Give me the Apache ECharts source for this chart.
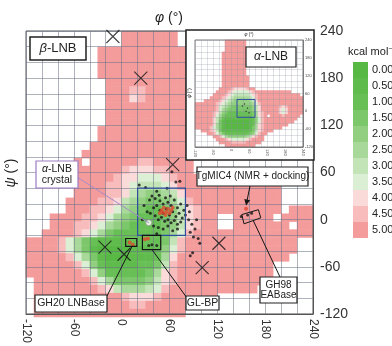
<!DOCTYPE html>
<html>
<head>
<meta charset="utf-8">
<script src="https://cdn.jsdelivr.net/npm/echarts@6/dist/echarts.min.js"></script>
<style>
  html, body { margin: 0; padding: 0; background: #fff; }
  #chart { width: 392px; height: 346px; }
</style>
</head>
<body>
<div id="chart"></div>
<script>
// energy levels (kcal/mol) and their colours
const levels = [0, 0.5, 1, 1.5, 2, 2.5, 3, 3.5, 4, 4.5, 5];
const levelColors = ['#58b844', '#5fbb4b', '#68bf55', '#7cc76a', '#92cf81', '#a9d99a',
  '#c2e4b7', '#dbefd5', '#fbdada', '#f8bcbc', '#f39c9b'];
const levelKeys = '0123456789A'; // '.' = no data

// phi / psi bins (10 deg); map rows are listed from psi 240 down to -120
const phiBins = [-120, -110, -100, -90, -80, -70, -60, -50, -40, -30, -20, -10, 0, 10, 20, 30, 40, 50,
  60, 70, 80, 90, 100, 110, 120, 130, 140, 150, 160, 170, 180, 190, 200, 210, 220, 230];

// beta-LNB map
const mainMap = [
  '............AAAAAAA.................',
  '............AAAAAAA.................',
  '.........AAAAAAAAAAA................',
  '.........AAAAAAAAAAA................',
  '.........AAAAAAAAAAA................',
  '.........AAAAAAAAAAA................',
  '..........AAAAAAAAAA................',
  '..........AAA99AAAAA................',
  '..........AAA89AAAAA................',
  '..........AAAAAAAAAA................',
  '..........AAAAAAAAAA................',
  '..........AAAAAAAAAA................',
  '.........AAAAAAAAAAA................',
  '.........AAAAAAAAAAA................',
  '........AAAAAAAAAAAA................',
  '.......AAAAAAAAAAAAA................',
  '......A.AAAAAA99AAAAA...............',
  '......AAAAAA988899AAA...............',
  '.....AAAAAA98877789AAAAAAAAAAA......',
  '......AAAA998766678AAAAAAAAAAAAA....',
  '......AAAA9986544568AAAAAAAAAAAA....',
  '.....AAAA998654334579AAAAAAAAAAA....',
  '.....AAA99875432234689AAAAAAAAAA.AAA',
  '...AAAA998754322234689AA..AAAAA.AAAA',
  '...AAA9987543222234689AA..AAAAAAA.AA',
  '..AAAA987532222223579AAAAAAAAAAAAAAA',
  'AAAA9753211112222369AAAAAAAAAAAAAA..',
  'AAAA9753100001112479AAAAAAAAAAAAAA..',
  'AAAAA97531000111258AAAAAAAAAAAAAA...',
  'AAAAAA9742111122369AAAAAAAAAAAA.....',
  'AAAAAAA974222223589AAAAAAAAAAAA.....',
  '.AAAAAAA97533334689AAAAAAAAAAA......',
  '.AAAAAAAA986555679AAAAAAAAAAA.......',
  '.AAAAAAAAAAA98889AAAAAAA............',
  '.AAAAAAAAAAAA99AAAAA................',
  '.AAAAAAAAAAAAAAAAAAA................'
];

// alpha-LNB inset map
const insetMap = [
  '..........AAAAAAA...................',
  '..........AAAAAAA...................',
  '..........AAAAAAA...................',
  '..........AAAAAAA...................',
  '.........AAAAAAAA...................',
  '.........AAAAAAAA...................',
  '.........AAAAAAAA...................',
  '.........AAAAAAAA...................',
  '.........AAAAAAAA...................',
  '.........AAAAAAAA...................',
  '.........AAAAAAAA...................',
  '.........AAAAAAAA...................',
  '.........AAAAAAAAA..................',
  '.........AAAAAAAAA..................',
  '.........AAAAAAAAA..................',
  '.........AAAAAAAAA..................',
  '........AAAA988889AA................',
  '.......AAAA987777789AAAAAAAAAAAA....',
  '......AAAA98766666789AAAAAAAAAAAAAA.',
  '.....AAAA987655555679AAAAAAAAAAAAAAA',
  '...AAAAA9876544444568AAAAAAAAAAAAAAA',
  'AAAAAAA987654444444579AAAAAAAAAAAAAA',
  'AAAAAAA976543333333468AAAAAA989AAAAA',
  'AAAAAAA975433333333468AAAAAA878AAAAA',
  'AAAAAA98643222222223589AAAAA878AAAAA',
  'AAAAAA97532222222223589A.AAAA9AAAAA.',
  'AAAAAA86421111111112479AAAAAAAAAAA..',
  'AAAAAA86310000000012479AAAAAAAAAA...',
  'AAAAAA85310000000012589AAAAAAAA.....',
  'AAAAA975310000000013589AAAAAA.......',
  '..AAA986311111111123689AAA..........',
  '....AA9753222222223479AA............',
  '......AA9754444445689AA.............',
  '.......AAA987777789AAAA.............',
  '........AAAA99999AAAAA..............',
  '..........AAAAAAAAAA................'
];

// [phi, psi] points
const blackDots = [
  [22, 44], [30, 41], [44, 36], [57, 40], [68, 48], [73, 49], [63, 61],
  [38, 30], [35, 25], [42, 27], [48, 24], [52, 20], [58, 22], [62, 18], [66, 25], [70, 15], [74, 20], [78, 12],
  [40, 15], [44, 18], [48, 12], [52, 8], [56, 14], [60, 6], [64, 10], [68, 4], [72, 8], [76, 2], [80, 6],
  [36, 8], [42, 5], [46, 0], [50, 3], [54, -2], [58, 0], [62, -4], [66, -1], [70, -6], [74, -3],
  [40, -8], [46, -10], [52, -12], [58, -8], [64, -14], [70, -12], [55, 28], [61, 30], [47, 31],
  [28, 18], [32, 10], [26, 0], [44, -18], [82, 18], [85, 10],
  [84, 0], [88, -6], [92, -12], [86, -16], [90, -22], [96, -24], [89, -42], [86, -46], [94, 0], [98, -30],
  [34, -33], [38, -32], [44, -33], [150, 4], [158, 6], [163, 8]
];
const redDots = [[50, 12], [53, 15], [56, 10], [58, 14], [60, 8], [62, 12], [55, 6], [52, 9], [64, 15], [48, 8],
  [10, -29], [14, -32], [29, -25], [33, -24], [156, 14]];
const crystalDot = [[34, -4]];
const minimaMarks = [[-11, 233], [24, 180], [64, 70], [-21, -35], [3, -44], [122, -30], [101, -61]];
const blueBox = [[20, -20], [80, 40]];
const gh20Box = [[5, -24], [19, -34]];
const glbpBox = [[26, -20], [49, -38]];
const gh98Box = [[150.6, 6.4], [171.5, 12.7], [174.5, 2.3], [153.5, -5.3], [150.6, 6.4]];
const insetDots = [[45, 25], [55, 10], [60, -5], [50, 0], [38, 18]];

const FONT = '"Liberation Sans", Arial, sans-serif';
const gridColor = 'rgba(105,115,135,0.55)';
const insetGridColor = 'rgba(140,145,160,0.55)';

function cells(rows) {
  const out = [];
  rows.forEach((row, r) => {
    for (let c = 0; c < row.length; c++) {
      const k = levelKeys.indexOf(row[c]);
      if (k >= 0) out.push([c, rows.length - 1 - r, levels[k]]);
    }
  });
  return out;
}

const chart = echarts.init(document.getElementById('chart'));

const areaStyle = (color, w) => ({ color: 'rgba(0,0,0,0)', borderColor: color, borderWidth: w || 1.2 });

chart.setOption({
  animation: false,
  grid: [
    { left: 26, top: 31, width: 287, height: 286 },
    { left: 26, top: 31, width: 287, height: 286, show: true, borderColor: '#555', borderWidth: 1, z: 3 },
    { left: 195, top: 40, width: 108, height: 107 },
    { left: 195, top: 40, width: 108, height: 107, show: true, borderColor: '#555', borderWidth: 0.8, z: 12 }
  ],
  xAxis: [
    { type: 'category', gridIndex: 0, data: phiBins, show: false },
    {
      type: 'value', gridIndex: 1, min: -120, max: 240, interval: 60, position: 'bottom', z: 3,
      axisLine: { show: true, onZero: false, lineStyle: { color: '#555' } }, axisTick: { show: false },
      axisLabel: { rotate: -90, margin: 5, fontSize: 12, color: '#333', fontFamily: FONT, showMinLabel: true, showMaxLabel: true },
      splitLine: { show: true, lineStyle: { color: gridColor } },
      minorTick: { show: false, splitNumber: 3 },
      minorSplitLine: { show: true, lineStyle: { color: gridColor } }
    },
    { type: 'category', gridIndex: 2, data: phiBins, show: false },
    {
      type: 'value', gridIndex: 3, min: -120, max: 240, interval: 60, position: 'bottom', z: 12,
      axisLine: { show: true, onZero: false, lineStyle: { color: '#555', width: 0.6 } }, axisTick: { show: false },
      axisLabel: { rotate: -90, margin: 2, fontSize: 4, color: '#444', fontFamily: FONT, showMinLabel: true, showMaxLabel: true },
      splitLine: { show: true, lineStyle: { color: insetGridColor, width: 0.5 } },
      minorTick: { show: false, splitNumber: 3 },
      minorSplitLine: { show: true, lineStyle: { color: insetGridColor, width: 0.5 } }
    }
  ],
  yAxis: [
    { type: 'category', gridIndex: 0, data: phiBins, show: false },
    {
      type: 'value', gridIndex: 1, min: -120, max: 240, interval: 60, position: 'right', z: 3,
      axisLine: { show: true, onZero: false, lineStyle: { color: '#555' } }, axisTick: { show: false },
      axisLabel: { margin: 7, fontSize: 14, color: '#333', fontFamily: FONT, showMinLabel: true, showMaxLabel: true },
      splitLine: { show: true, lineStyle: { color: gridColor } },
      minorTick: { show: false, splitNumber: 3 },
      minorSplitLine: { show: true, lineStyle: { color: gridColor } }
    },
    { type: 'category', gridIndex: 2, data: phiBins, show: false },
    {
      type: 'value', gridIndex: 3, min: -120, max: 240, interval: 60, position: 'right', z: 12,
      axisLine: { show: true, onZero: false, lineStyle: { color: '#555', width: 0.6 } }, axisTick: { show: false },
      axisLabel: { margin: 2, fontSize: 4, color: '#444', fontFamily: FONT, showMinLabel: true, showMaxLabel: true },
      splitLine: { show: true, lineStyle: { color: insetGridColor, width: 0.5 } },
      minorTick: { show: false, splitNumber: 3 },
      minorSplitLine: { show: true, lineStyle: { color: insetGridColor, width: 0.5 } }
    }
  ],
  visualMap: {
    type: 'piecewise',
    seriesIndex: [0, 1],
    pieces: levels.map((v, i) => ({ value: v, label: v.toFixed(2), color: levelColors[i] })),
    orient: 'vertical',
    inverse: true,
    align: 'left',
    left: 353,
    top: 62,
    padding: 0,
    itemWidth: 15,
    itemHeight: 16,
    itemGap: 0,
    itemSymbol: 'rect',
    textGap: 4,
    textStyle: { fontSize: 11, color: '#222', fontFamily: FONT }
  },
  series: [
    {
      type: 'heatmap', xAxisIndex: 0, yAxisIndex: 0, data: cells(mainMap), z: 2,
      itemStyle: { borderWidth: 0 }, emphasis: { disabled: true }
    },
    {
      type: 'heatmap', xAxisIndex: 2, yAxisIndex: 2, data: cells(insetMap), z: 11,
      itemStyle: { borderWidth: 0 }, emphasis: { disabled: true }
    },
    {
      type: 'scatter', xAxisIndex: 1, yAxisIndex: 1, data: blackDots, symbolSize: 3, z: 5,
      itemStyle: { color: '#151515' },
      markArea: {
        silent: true, z: 8, label: { show: false },
        data: [
          [{ coord: blueBox[0], itemStyle: areaStyle('#2d4f9e') }, { coord: blueBox[1] }],
          [{ coord: gh20Box[0], itemStyle: areaStyle('#151515') }, { coord: gh20Box[1] }],
          [{ coord: glbpBox[0], itemStyle: areaStyle('#151515') }, { coord: glbpBox[1] }]
        ]
      }
    },
    {
      type: 'scatter', xAxisIndex: 1, yAxisIndex: 1, data: redDots, symbolSize: 4, z: 6,
      itemStyle: { color: '#e2472f' }
    },
    {
      type: 'scatter', xAxisIndex: 1, yAxisIndex: 1, data: crystalDot, symbolSize: 6, z: 7,
      itemStyle: { color: '#ffffff', borderColor: '#8a8a8a', borderWidth: 0.8 }
    },
    {
      type: 'scatter', xAxisIndex: 1, yAxisIndex: 1, data: minimaMarks, z: 7,
      symbol: 'path://M0 0L10 10M10 0L0 10', symbolSize: 13,
      itemStyle: { color: 'rgba(0,0,0,0)', borderColor: '#111', borderWidth: 1.1 }
    },
    {
      type: 'line', xAxisIndex: 1, yAxisIndex: 1, data: gh98Box, symbol: 'none', z: 7,
      lineStyle: { color: '#151515', width: 1 }
    },
    {
      type: 'scatter', xAxisIndex: 3, yAxisIndex: 3, data: insetDots, symbolSize: 1.5, z: 13,
      itemStyle: { color: '#222' },
      markArea: {
        silent: true, z: 14, label: { show: false },
        data: [[{ coord: blueBox[0], itemStyle: areaStyle('#2d4f9e', 1) }, { coord: blueBox[1] }]]
      }
    }
  ]
});

// annotations
const P = (p) => chart.convertToPixel({ xAxisIndex: 1, yAxisIndex: 1 }, p);
const rich = (size) => ({
  i: { fontStyle: 'italic', fontSize: size, fontFamily: FONT, fill: '#222' },
  n: { fontSize: size, fontFamily: FONT, fill: '#222' }
});
const rect = (x, y, w, h, stroke, z, lw) => ({
  type: 'rect', silent: true, z, shape: { x, y, width: w, height: h },
  style: { fill: '#fff', stroke, lineWidth: lw || 1.2 }
});
const text = (x, y, str, size, z, extra) => Object.assign({
  type: 'text', silent: true, z, x, y,
  style: {
    text: str, fontSize: size, fontFamily: FONT, fill: '#222', rich: rich(size),
    align: 'center', verticalAlign: 'middle', textAlign: 'center', textVerticalAlign: 'middle'
  }
}, extra || {});
const seg = (a, b, color, z) => ({
  type: 'line', silent: true, z, shape: { x1: a[0], y1: a[1], x2: b[0], y2: b[1] },
  style: { stroke: color, lineWidth: 1 }
});

const arrowFrom = [250, 186];
const arrowTo = P([156, 18]);
const dx = arrowTo[0] - arrowFrom[0], dy = arrowTo[1] - arrowFrom[1];
const len = Math.hypot(dx, dy), ux = dx / len, uy = dy / len;
const head = [
  arrowTo,
  [arrowTo[0] - ux * 6 - uy * 3, arrowTo[1] - uy * 6 + ux * 3],
  [arrowTo[0] - ux * 6 + uy * 3, arrowTo[1] - uy * 6 - ux * 3]
];

chart.setOption({
  graphic: [
    // inset frame
    rect(186, 30, 128, 130, '#222', 10, 1.5),
    text(249, 35, '{i|φ}{n| (°)}', 4.5, 15),
    text(190, 93, '{i|ψ}{n| (°)}', 4.5, 15, { rotation: Math.PI / 2 }),
    rect(246, 47, 50, 20, '#222', 16, 1.2),
    text(271, 57, '{i|α}{n|-LNB}', 12, 17),

    // axis names and colour bar title
    text(169, 18, '{i|φ}{n| (°)}', 14, 20),
    text(11, 173, '{i|ψ}{n| (°)}', 14, 20, { rotation: Math.PI / 2 }),
    {
      type: 'text', silent: true, z: 20, x: 348, y: 52,
      style: {
        text: '{n|kcal mol}{s|−1}', fontSize: 11, fontFamily: FONT, fill: '#222',
        verticalAlign: 'middle', textVerticalAlign: 'middle',
        rich: { n: { fontSize: 11, fontFamily: FONT, fill: '#222' }, s: { fontSize: 7, fontFamily: FONT, fill: '#222', verticalAlign: 'top', padding: [0, 0, 6, 0] } }
      }
    },

    // beta-LNB label
    rect(30, 37, 56, 23, '#222', 20, 1.5),
    text(58, 48.5, '{i|β}{n|-LNB}', 13, 21),

    // connectors
    seg([77, 177], P(crystalDot[0]), '#a58bc9', 20),
    seg([107, 296], P([13, -34]), '#151515', 20),
    seg([187, 298], P([38, -38]), '#151515', 20),
    seg([280, 277], P([165, -1]), '#151515', 20),
    seg(arrowFrom, [arrowTo[0] - ux * 4, arrowTo[1] - uy * 4], '#151515', 20),
    { type: 'polygon', silent: true, z: 20, shape: { points: head }, style: { fill: '#151515' } },

    // labels
    rect(36, 161, 42, 27, '#9a7cc4', 21, 1.2),
    text(57, 174.5, '{i|α}{n|-LNB}\n{n|crystal}', 10.5, 22),
    rect(197, 167, 111, 19, '#222', 21, 1.2),
    text(252.5, 176.5, '{n|TgMIC4 (NMR + docking)}', 10, 22),
    rect(260, 277, 37, 26, '#222', 21, 1.2),
    text(278.5, 290, '{n|GH98}\n{n|EABase}', 10, 22),
    rect(186, 296, 33, 14, '#222', 21, 1.2),
    text(202.5, 303, '{n|GL-BP}', 10.5, 22),
    rect(35, 295, 72, 17, '#222', 21, 1.2),
    text(71, 303.5, '{n|GH20 LNBase}', 10.5, 22)
  ]
});
</script>
</body>
</html>
